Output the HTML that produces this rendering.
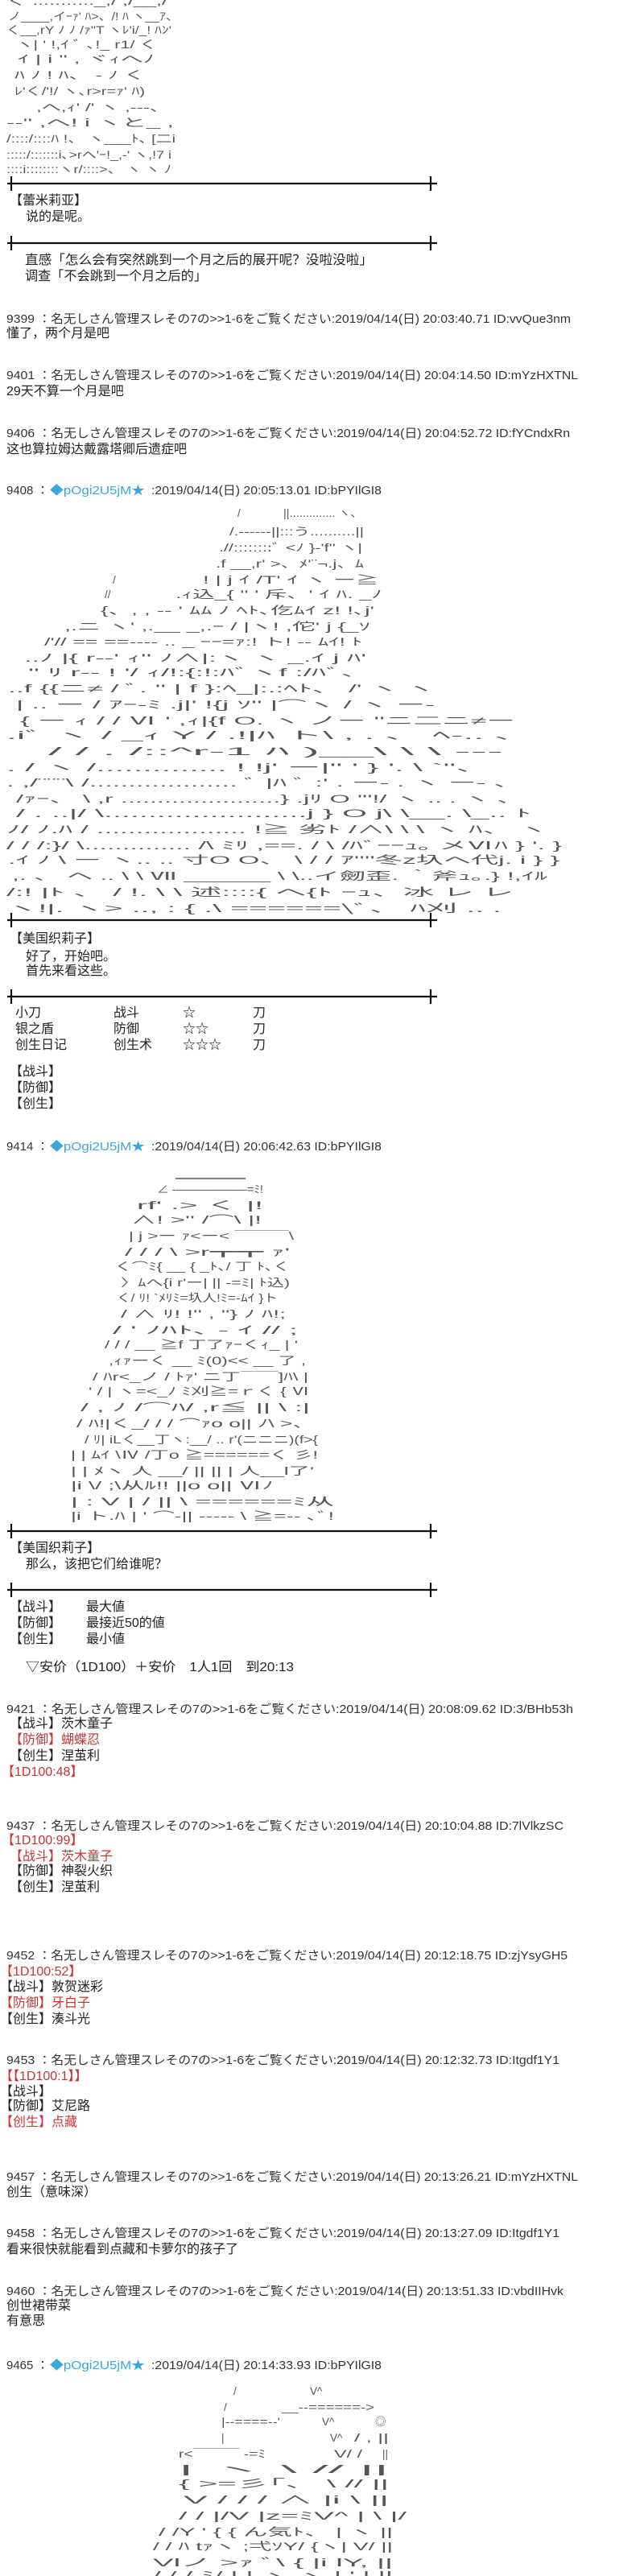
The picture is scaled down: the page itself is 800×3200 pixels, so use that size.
<!DOCTYPE html>
<html><head><meta charset="utf-8">
<style>
html,body{margin:0;padding:0;background:#fff;width:800px;height:3200px;overflow:hidden}
svg{display:block}
.t{font-family:"Liberation Sans","Noto Sans CJK SC",sans-serif;font-size:16px;fill:#222}
.h{font-family:"Liberation Sans","Noto Sans CJK JP",sans-serif;font-size:15px;fill:#333}
.a{font-family:"Liberation Sans","Noto Sans CJK JP",sans-serif;font-size:13.5px;fill:#555;white-space:pre}
.r{fill:#c83434}
.b{fill:#3aa8dc}
</style></head><body>
<svg width="800" height="3200" xmlns="http://www.w3.org/2000/svg" xml:space="preserve">
<!-- AA 1 -->
<g class="a">
<text x="8" y="6" textLength="200" lengthAdjust="spacingAndGlyphs">く ..........._,/            ,/__,/</text>
<text x="10" y="25" textLength="212" lengthAdjust="spacingAndGlyphs">ノ____,イｰｧ' ﾊ&gt;、/!   ﾊ   ヽ__ｱ、</text>
<text x="8" y="42" textLength="205" lengthAdjust="spacingAndGlyphs">く__,rY  ﾉ ﾉ /ｧ"T ヽﾚ'i/_!  ﾊﾝ'</text>
<text x="20" y="60" textLength="175" lengthAdjust="spacingAndGlyphs">ヽ|      ' !,ｲ ﾞ ､!_      r1/ く</text>
<text x="22" y="78" textLength="170" lengthAdjust="spacingAndGlyphs">ｲ      | i ''       ,  ヾｨへﾉ</text>
<text x="18" y="98" textLength="162" lengthAdjust="spacingAndGlyphs">ﾊ ﾉ    ! ﾊ、     -     ﾉ く</text>
<text x="18" y="118" textLength="162" lengthAdjust="spacingAndGlyphs">ﾚ'く/'!/ ヽ､r&gt;r=ｧ' ﾊ)</text>
<text x="45" y="138" textLength="165" lengthAdjust="spacingAndGlyphs">,へ,ｨ' /'      ヽ ,---、</text>
<text x="8" y="157" textLength="208" lengthAdjust="spacingAndGlyphs">--''     ,へ! i          ヽと_   ,</text>
<text x="8" y="177" textLength="210" lengthAdjust="spacingAndGlyphs">/::::/::::ﾊ  !、     ヽ___ﾄ､ [二i</text>
<text x="8" y="197" textLength="205" lengthAdjust="spacingAndGlyphs">:::::/:::::::i､&gt;rへ'ｰ!_,-'   ヽ,!7   i</text>
<text x="8" y="215" textLength="205" lengthAdjust="spacingAndGlyphs">::::i::::::::ヽr/::::&gt;、 ヽ      ヽ  ﾉ</text>
</g>
<!-- dividers -->
<g stroke="#111" stroke-width="2.2">
<line x1="9" y1="228" x2="543" y2="228"/><line x1="14" y1="219" x2="14" y2="237"/><line x1="535" y1="219" x2="535" y2="237"/>
<line x1="9" y1="302" x2="543" y2="302"/><line x1="14" y1="293" x2="14" y2="311"/><line x1="535" y1="293" x2="535" y2="311"/>
<line x1="9" y1="1143" x2="543" y2="1143"/><line x1="14" y1="1134" x2="14" y2="1152"/><line x1="535" y1="1134" x2="535" y2="1152"/>
<line x1="9" y1="1238" x2="543" y2="1238"/><line x1="14" y1="1229" x2="14" y2="1247"/><line x1="535" y1="1229" x2="535" y2="1247"/>
<line x1="9" y1="1902" x2="543" y2="1902"/><line x1="14" y1="1893" x2="14" y2="1911"/><line x1="535" y1="1893" x2="535" y2="1911"/>
<line x1="9" y1="1975" x2="543" y2="1975"/><line x1="14" y1="1966" x2="14" y2="1984"/><line x1="535" y1="1966" x2="535" y2="1984"/>
</g>
<g class="t">
<text x="12" y="254">【蕾米莉亚】</text>
<text x="32" y="274">说的是呢。</text>
<text x="31" y="328" textLength="432" lengthAdjust="spacingAndGlyphs">直感「怎么会有突然跳到一个月之后的展开呢？没啦没啦」</text>
<text x="31" y="348" textLength="226" lengthAdjust="spacingAndGlyphs">调查「不会跳到一个月之后的」</text>
<text x="8" y="419">懂了，两个月是吧</text>
<text x="8" y="491">29天不算一个月是吧</text>
<text x="8" y="563">这也算拉姆达戴露塔卿后遗症吧</text>
<text x="12" y="1171">【美国织莉子】</text>
<text x="32" y="1193">好了，开始吧。</text>
<text x="32" y="1211">首先来看这些。</text>
<text x="19" y="1263">小刀</text><text x="141" y="1263">战斗</text><text x="227" y="1263">☆</text><text x="314" y="1263">刀</text>
<text x="19" y="1283">银之盾</text><text x="141" y="1283">防御</text><text x="227" y="1283">☆☆</text><text x="314" y="1283">刀</text>
<text x="19" y="1303">创生日记</text><text x="141" y="1303">创生术</text><text x="227" y="1303">☆☆☆</text><text x="314" y="1303">刀</text>
<text x="12" y="1336">【战斗】</text>
<text x="12" y="1356">【防御】</text>
<text x="12" y="1376">【创生】</text>
<text x="12" y="1928">【美国织莉子】</text>
<text x="32" y="1948">那么，该把它们给谁呢？</text>
<text x="12" y="2001">【战斗】</text><text x="107" y="2001">最大値</text>
<text x="12" y="2021">【防御】</text><text x="107" y="2021">最接近50的値</text>
<text x="12" y="2041">【创生】</text><text x="107" y="2041">最小値</text>
<text x="32" y="2076" textLength="333" lengthAdjust="spacingAndGlyphs">▽安价（1D100）＋安价　1人1回　到20:13</text>
<text x="12" y="2146">【战斗】茨木童子</text>
<text x="12" y="2166" class="r">【防御】蝴蝶忍</text>
<text x="12" y="2186">【创生】涅茧利</text>
<text x="2" y="2206" class="r">【1D100:48】</text>
<text x="2" y="2291" class="r">【1D100:99】</text>
<text x="12" y="2311" class="r">【战斗】茨木童子</text>
<text x="12" y="2329">【防御】神裂火织</text>
<text x="12" y="2349">【创生】涅茧利</text>
<text x="0" y="2454" class="r">【1D100:52】</text>
<text x="0" y="2473">【战斗】敦贺迷彩</text>
<text x="0" y="2493" class="r">【防御】牙白子</text>
<text x="0" y="2513">【创生】湊斗光</text>
<text x="0" y="2584" class="r">【【1D100:1】】</text>
<text x="0" y="2603">【战斗】</text>
<text x="0" y="2621">【防御】艾尼路</text>
<text x="0" y="2641" class="r">【创生】点藏</text>
<text x="8" y="2728">创生（意味深）</text>
<text x="8" y="2799">看来很快就能看到点藏和卡萝尔的孩子了</text>
<text x="8" y="2869">创世裙带菜</text>
<text x="8" y="2888">有意思</text>
</g>
<!-- headers -->
<g class="h">
<text x="8" y="401" textLength="701" lengthAdjust="spacingAndGlyphs">9399 ：名无しさん管理スレその7の&gt;&gt;1-6をご覧ください:2019/04/14(日) 20:03:40.71 ID:vvQue3nm</text>
<text x="8" y="471" textLength="710" lengthAdjust="spacingAndGlyphs">9401 ：名无しさん管理スレその7の&gt;&gt;1-6をご覧ください:2019/04/14(日) 20:04:14.50 ID:mYzHXTNL</text>
<text x="8" y="543" textLength="700" lengthAdjust="spacingAndGlyphs">9406 ：名无しさん管理スレその7の&gt;&gt;1-6をご覧ください:2019/04/14(日) 20:04:52.72 ID:fYCndxRn</text>
<text x="8" y="614">9408 ：</text><text x="62" y="614" class="b" textLength="118" lengthAdjust="spacingAndGlyphs">◆pOgi2U5jM★</text><text x="188" y="614" textLength="286" lengthAdjust="spacingAndGlyphs">:2019/04/14(日) 20:05:13.01 ID:bPYIlGI8</text>
<text x="8" y="1429">9414 ：</text><text x="62" y="1429" class="b" textLength="118" lengthAdjust="spacingAndGlyphs">◆pOgi2U5jM★</text><text x="188" y="1429" textLength="286" lengthAdjust="spacingAndGlyphs">:2019/04/14(日) 20:06:42.63 ID:bPYIlGI8</text>
<text x="8" y="2128" textLength="704" lengthAdjust="spacingAndGlyphs">9421 ：名无しさん管理スレその7の&gt;&gt;1-6をご覧ください:2019/04/14(日) 20:08:09.62 ID:3/BHb53h</text>
<text x="8" y="2273" textLength="692" lengthAdjust="spacingAndGlyphs">9437 ：名无しさん管理スレその7の&gt;&gt;1-6をご覧ください:2019/04/14(日) 20:10:04.88 ID:7lVlkzSC</text>
<text x="8" y="2434" textLength="697" lengthAdjust="spacingAndGlyphs">9452 ：名无しさん管理スレその7の&gt;&gt;1-6をご覧ください:2019/04/14(日) 20:12:18.75 ID:zjYsyGH5</text>
<text x="8" y="2564" textLength="687" lengthAdjust="spacingAndGlyphs">9453 ：名无しさん管理スレその7の&gt;&gt;1-6をご覧ください:2019/04/14(日) 20:12:32.73 ID:Itgdf1Y1</text>
<text x="8" y="2709" textLength="710" lengthAdjust="spacingAndGlyphs">9457 ：名无しさん管理スレその7の&gt;&gt;1-6をご覧ください:2019/04/14(日) 20:13:26.21 ID:mYzHXTNL</text>
<text x="8" y="2779" textLength="687" lengthAdjust="spacingAndGlyphs">9458 ：名无しさん管理スレその7の&gt;&gt;1-6をご覧ください:2019/04/14(日) 20:13:27.09 ID:Itgdf1Y1</text>
<text x="8" y="2851" textLength="692" lengthAdjust="spacingAndGlyphs">9460 ：名无しさん管理スレその7の&gt;&gt;1-6をご覧ください:2019/04/14(日) 20:13:51.33 ID:vbdIIHvk</text>
<text x="8" y="2943">9465 ：</text><text x="62" y="2943" class="b" textLength="118" lengthAdjust="spacingAndGlyphs">◆pOgi2U5jM★</text><text x="188" y="2943" textLength="286" lengthAdjust="spacingAndGlyphs">:2019/04/14(日) 20:14:33.93 ID:bPYIlGI8</text>
</g>
<!-- AA 2 -->
<g class="a">
<text x="295" y="642">/</text><text x="352" y="642" textLength="98" lengthAdjust="spacingAndGlyphs">||..............  ヽ、</text>
<text x="285" y="665" textLength="167" lengthAdjust="spacingAndGlyphs">/.------||:::う..........||</text>
<text x="272" y="685" textLength="178" lengthAdjust="spacingAndGlyphs">.//::::::::ﾞ  &lt;ﾉ  }-'f'' ヽ|</text>
<text x="268" y="705" textLength="184" lengthAdjust="spacingAndGlyphs">.f  __,r'  &gt;、ﾒ'¨¬.j、ﾑ</text>
<text x="140" y="725">/</text><text x="252" y="725" textLength="218" lengthAdjust="spacingAndGlyphs">!  | j    ｲ /T' ｲ        ヽ ー≧</text>
<text x="130" y="743">//</text><text x="218" y="743" textLength="257" lengthAdjust="spacingAndGlyphs">.ｨ込_{   ''    ' 斥、'  ｲ   ﾊ. _ﾉ</text>
<text x="125" y="763" textLength="340" lengthAdjust="spacingAndGlyphs">{、,  ,    --      '    ﾑﾑ  ﾉ  ﾍﾄ､仡ﾑｲ z!    !､j'</text>
<text x="80" y="783" textLength="380" lengthAdjust="spacingAndGlyphs">,.ニ ヽ'   ,.__ _,.ｰ     /     |ヽ!     ,佗' j {_ｿ</text>
<text x="55" y="802" textLength="395" lengthAdjust="spacingAndGlyphs">/'//  ==    ==---- .. _ ｰｰ=ｧ:! ト!    -- ﾑｲ!  ﾄ</text>
<text x="30" y="822" textLength="425" lengthAdjust="spacingAndGlyphs">..ﾉ  |{        r--'      ｨ''    ﾉ∧|:ヽ ヽ  _.ｲ    j ﾊ'</text>
<text x="35" y="840" textLength="425" lengthAdjust="spacingAndGlyphs">''  ﾘ r--       !          '/   ｨ/!:{:!:ﾊﾞヽf        :/ﾊﾞ、</text>
<text x="10" y="860" textLength="530" lengthAdjust="spacingAndGlyphs">..f       {{ニ≠    /            ﾞ. '' | f }:ﾍ_|:.:ﾍﾄ、       /'      ヽ   ヽ</text>
<text x="20" y="880" textLength="520" lengthAdjust="spacingAndGlyphs">|        ..     ー  /     ｱｰ-ﾐ    .j|'   !{j ｿ''     |⌒ヽ     /      ヽ   ー-</text>
<text x="25" y="900" textLength="615" lengthAdjust="spacingAndGlyphs">{    ー      ｨ /      /         Ⅵ    '  ,ｨ|{f       O. ヽ ノー                    ''ニ二ニ≠ー</text>
<text x="8" y="918" textLength="652" lengthAdjust="spacingAndGlyphs">.iﾞ      ヽ   /  _ｨ              Y     / .!|ﾊ               ト\      ,      .      、     ﾍ-.. 、</text>
<text x="60" y="938" textLength="565" lengthAdjust="spacingAndGlyphs">/   /  .             /::^r-1      ﾊ             )__\      \              \      ---</text>
<text x="8" y="958" textLength="600" lengthAdjust="spacingAndGlyphs">.      /    ヽ   /..............  !        !j' ー|''    '   }        '.              \     `''、</text>
<text x="8" y="977" textLength="640" lengthAdjust="spacingAndGlyphs">.    ,/¨¨¨\     /...................  ﾞ         |ﾊ         ﾞ   :'     .    ー-  .     ヽ ー-   、</text>
<text x="20" y="997" textLength="630" lengthAdjust="spacingAndGlyphs">/ｧｰ、     \  ,r  ......................}       .jﾘ  O     '''!/     ヽ  ..   .    ヽ   、</text>
<text x="20" y="1015" textLength="640" lengthAdjust="spacingAndGlyphs">/      .     ..|/  \.......................j        }            O j\     \__.      \_..    ﾄ</text>
<text x="8" y="1035" textLength="672" lengthAdjust="spacingAndGlyphs">ﾉ/   ﾉ.ﾊ     /    ...................  !≧    劣ﾄ             /∧\       \        \ ヽ   ﾊ、  ヽ</text>
<text x="8" y="1055" textLength="690" lengthAdjust="spacingAndGlyphs">/  /   /:}/        \.............. /\      ﾐﾘ   ,==.      /   \    /ﾊﾞｰｰｭ｡  メⅥﾊ   }  '.  }</text>
<text x="10" y="1073" textLength="685" lengthAdjust="spacingAndGlyphs">.ｲ  ﾉ                  \ ー      ヽ..  ..  寸O    O、    \   / / ｱ''''冬z圦へ代j.    i     }  }</text>
<text x="15" y="1093" textLength="665" lengthAdjust="spacingAndGlyphs">,. 、 ヘ                       ..    \ \         Ⅶ ______   \   \..イ劒歪. ｀斧ｭ｡.}  !,ｲﾙ</text>
<text x="8" y="1113" textLength="630" lengthAdjust="spacingAndGlyphs">/:! |ﾄ 、        /       !.   \  \    述::::{    へ{ﾄ          ｰｭ、冰       レ  レ</text>
<text x="8" y="1133" textLength="615" lengthAdjust="spacingAndGlyphs">ヽ!|.  ヽ&gt;           ..,    :   {    .\ ======\ﾞ、          ﾊ刈 ..    .</text>
</g>
<!-- AA 3 -->
<g class="a">
<line x1="218" y1="1464" x2="305" y2="1464" stroke="#555" stroke-width="1.5"/>
<text x="195" y="1482" textLength="132" lengthAdjust="spacingAndGlyphs">∠ -――――――=ﾐ!</text>
<text x="170" y="1502" textLength="157" lengthAdjust="spacingAndGlyphs">rf'          .&gt;       く |!</text>
<text x="163" y="1520" textLength="162" lengthAdjust="spacingAndGlyphs">∧!  &gt;''      /⌒\ |!</text>
<text x="160" y="1540" textLength="205" lengthAdjust="spacingAndGlyphs">| j &gt;ー     ｧ&lt;ー&lt;  ￣￣￣\</text>
<text x="155" y="1560" textLength="205" lengthAdjust="spacingAndGlyphs">/     /      /  \       &gt;r┳┳ ｧ'</text>
<text x="143" y="1578" textLength="217" lengthAdjust="spacingAndGlyphs">く⌒ﾐ{  __ {  _ﾄ､/  丁  ﾄ､く</text>
<text x="150" y="1598" textLength="210" lengthAdjust="spacingAndGlyphs">〉ﾑへ{i  r'ー| ||  -=ﾐ|  ﾄ込)</text>
<text x="145" y="1617" textLength="200" lengthAdjust="spacingAndGlyphs">く/  ﾘ! `ﾒﾘﾐ=圦人!ﾐ=-ﾑｲ }ト</text>
<text x="150" y="1637" textLength="205" lengthAdjust="spacingAndGlyphs">/   ∧ ﾘ!  !''    ,    ''} ﾉ ﾊ!;</text>
<text x="140" y="1657" textLength="230" lengthAdjust="spacingAndGlyphs">/    '   ﾉﾊﾄ､   -    ｲ //        ;</text>
<text x="130" y="1675" textLength="240" lengthAdjust="spacingAndGlyphs">/  / /  __ ≧f 丁了ｧｰくｨ_ |     '</text>
<text x="135" y="1695" textLength="245" lengthAdjust="spacingAndGlyphs">,ｨｧーく     __ ﾐ(0)&lt;&lt;  __  了     ,</text>
<text x="115" y="1715" textLength="268" lengthAdjust="spacingAndGlyphs">/   ﾊr&lt;_ノ  / ﾄｧ' ニ丁￣￣]ﾊ\  |</text>
<text x="110" y="1733" textLength="275" lengthAdjust="spacingAndGlyphs">'   / |       ヽ=&lt;_ﾉ   ﾐ刈≧=ｒく   {   Ⅵ</text>
<text x="100" y="1753" textLength="285" lengthAdjust="spacingAndGlyphs">/    ,   ﾉ      /⌒ﾊ/   ,r≦      ||     \ :|</text>
<text x="95" y="1773" textLength="295" lengthAdjust="spacingAndGlyphs">/  ﾊ!|く_/  /  /  ⌒ｧo       o||  ﾉ\  &gt;、</text>
<text x="105" y="1793" textLength="290" lengthAdjust="spacingAndGlyphs">/ ﾘ| iLく__丁ヽ:__/ ..    r'(ニニニ)(f&gt;{</text>
<text x="88" y="1812" textLength="307" lengthAdjust="spacingAndGlyphs">| |  ﾑｲ  \Ⅳ      /丁o     ≧======く 彡!</text>
<text x="88" y="1832" textLength="302" lengthAdjust="spacingAndGlyphs">| |     ﾒヽ 人  __/    ||          || |  人__l了'</text>
<text x="88" y="1850" textLength="252" lengthAdjust="spacingAndGlyphs">|i  \/  ;\从ﾙ!!    ||o        o|| Ⅵﾉ</text>
<text x="88" y="1870" textLength="327" lengthAdjust="spacingAndGlyphs">|       :    V |   /      ||                \ ======ﾐ从</text>
<text x="88" y="1888" textLength="327" lengthAdjust="spacingAndGlyphs">|i        ト.ﾊ |  '   ⌒-||  -----  \   ≧=--   ､ﾞ!</text>
</g>
<!-- AA 4 -->
<g class="a">
<text x="290" y="2975">/</text><text x="385" y="2975">V^</text>
<text x="278" y="2995">/</text><text x="350" y="2995" textLength="115" lengthAdjust="spacingAndGlyphs">__--======-&gt;</text>
<text x="275" y="3013" textLength="73" lengthAdjust="spacingAndGlyphs">|--====--'</text><text x="400" y="3013">V^</text><text x="466" y="3013">◎</text>
<text x="275" y="3033">|</text><text x="410" y="3033">V^</text><text x="440" y="3033" textLength="43" lengthAdjust="spacingAndGlyphs">/ , ||</text>
<text x="222" y="3053" textLength="108" lengthAdjust="spacingAndGlyphs">r&lt;￣￣￣  -=ﾐ</text><text x="415" y="3053" textLength="35" lengthAdjust="spacingAndGlyphs">V/  /</text><text x="475" y="3053">||</text>
<text x="222" y="3072" textLength="261" lengthAdjust="spacingAndGlyphs">|    ヽ              \            //       ||</text>
<text x="222" y="3090" textLength="261" lengthAdjust="spacingAndGlyphs">{       &gt;=彡｢、           \     //          ||</text>
<text x="228" y="3110" textLength="255" lengthAdjust="spacingAndGlyphs">V / / /   ∧   |i                  \                  ||</text>
<text x="222" y="3130" textLength="283" lengthAdjust="spacingAndGlyphs">/ / |/V  |z=ﾐV^       |   \          |/</text>
<text x="197" y="3150" textLength="291" lengthAdjust="spacingAndGlyphs">/ /Y   ' { {  ん気ﾄ、 |       ヽ       ||</text>
<text x="190" y="3168" textLength="298" lengthAdjust="spacingAndGlyphs">/ /  ﾊ   tｧヽ  ;弌ｿY/  {ヽ|           V/ ||</text>
<text x="190" y="3188" textLength="298" lengthAdjust="spacingAndGlyphs">Vlノ &gt;ｧ        ﾞ\    {  |i              lY,  ||</text>
<text x="190" y="3204" textLength="298" lengthAdjust="spacingAndGlyphs">/ / / ﾐ/          | |  ヽ ヽ    |      ' |  ||</text>
</g>
</svg>
</body></html>
